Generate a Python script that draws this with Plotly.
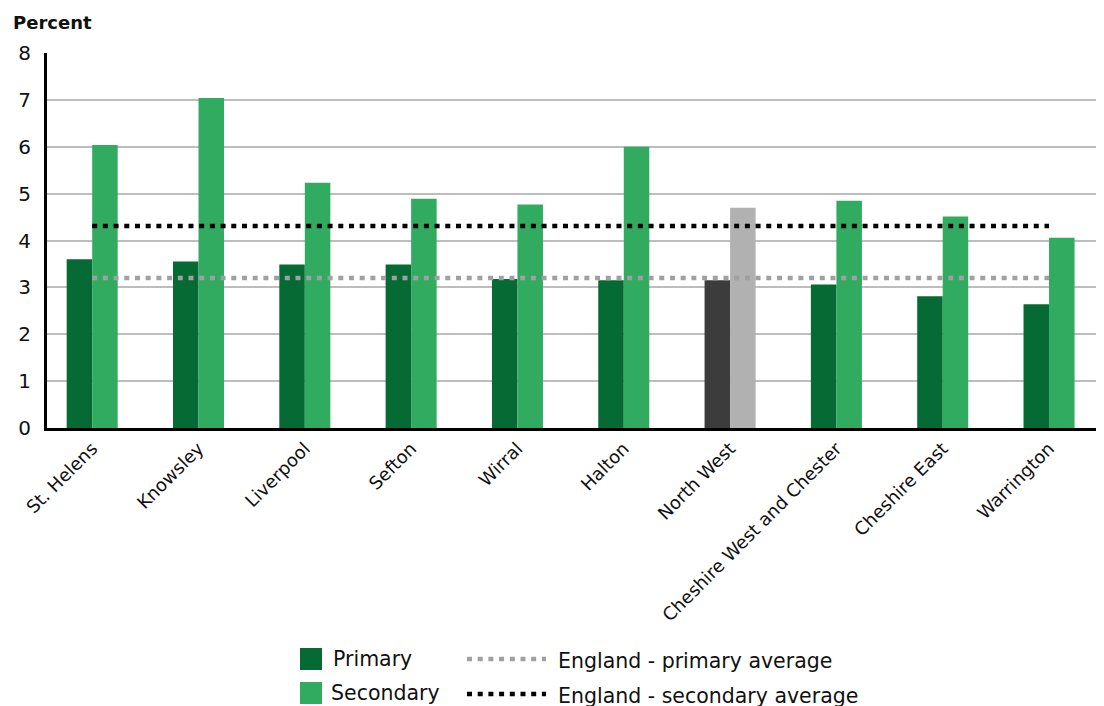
import plotly.graph_objects as go

categories = ["St. Helens", "Knowsley", "Liverpool", "Sefton", "Wirral", "Halton",
              "North West", "Cheshire West and Chester", "Cheshire East", "Warrington"]
primary = [3.60, 3.55, 3.49, 3.49, 3.18, 3.15, 3.15, 3.06, 2.81, 2.64]
secondary = [6.04, 7.04, 5.23, 4.89, 4.77, 6.00, 4.70, 4.85, 4.51, 4.06]
england_primary_avg = 3.20
england_secondary_avg = 4.31
y_ticks = [0, 1, 2, 3, 4, 5, 6, 7, 8]

DARK = "#066a35"
LIGHT = "#31ab60"
NW_DARK = "#3c3c3c"
NW_LIGHT = "#b1b1b1"
FONT = "DejaVu Sans"
TXT = "#111111"

prim_colors = [NW_DARK if c == "North West" else DARK for c in categories]
sec_colors = [NW_LIGHT if c == "North West" else LIGHT for c in categories]

OFF = 8  # page body margin
W, H = 1104 - OFF, 706 - OFF
L, R, T, B = 47 - OFF, 0, 53 - OFF, 706 - 428
PW, PH = W - L - R, H - T - B


def px(x):
    """reference page x pixel -> paper coordinate"""
    return (x - OFF - L) / PW


def py(y):
    """reference page y pixel -> paper coordinate"""
    return (H - B - (y - OFF)) / PH


fig = go.Figure()
fig.add_trace(go.Bar(x=categories, y=primary, name="Primary",
                     marker=dict(color=prim_colors, line=dict(width=0))))
fig.add_trace(go.Bar(x=categories, y=secondary, name="Secondary",
                     marker=dict(color=sec_colors, line=dict(width=0))))
fig.add_trace(go.Scatter(x=[categories[0], categories[-1]],
                         y=[england_primary_avg] * 2, mode="lines",
                         name="England - primary average",
                         line=dict(color="#a0a0a0", width=4.5, dash="5px,5.7px")))
fig.add_trace(go.Scatter(x=[categories[0], categories[-1]],
                         y=[england_secondary_avg] * 2, mode="lines",
                         name="England - secondary average",
                         line=dict(color="#000000", width=4.5, dash="5px,5.7px")))

shapes = []
annotations = []
legend_items = [
    ("rect", DARK, 300, 648, "Primary", 331, 659),
    ("rect", LIGHT, 300, 682, "Secondary", 329, 693),
    ("line", "#a0a0a0", 467, 659, "England - primary average", 556, 661),
    ("line", "#000000", 467, 694, "England - secondary average", 556, 696),
]
for kind, col, x0, y0, label, tx, ty in legend_items:
    if kind == "rect":
        shapes.append(dict(type="rect", xref="paper", yref="paper",
                           x0=px(x0), x1=px(x0 + 22), y0=py(y0), y1=py(y0 + 22),
                           fillcolor=col, line=dict(width=0)))
    else:
        shapes.append(dict(type="line", xref="paper", yref="paper",
                           x0=px(x0), x1=px(x0 + 79), y0=py(y0), y1=py(y0),
                           line=dict(color=col, width=4.5, dash="5px,5.7px")))
    annotations.append(dict(text=label, xref="paper", yref="paper",
                            x=px(tx), y=py(ty), xanchor="left", yanchor="middle",
                            showarrow=False,
                            font=dict(family=FONT, size=20.5, color=TXT)))

annotations.append(dict(text="<b>Percent</b>", xref="paper", yref="paper",
                        x=px(11), y=py(22), xanchor="left", yanchor="middle",
                        showarrow=False,
                        font=dict(family=FONT, size=18, color=TXT)))

fig.update_layout(
    width=W, height=H,
    margin=dict(l=L, r=R, t=T, b=B),
    paper_bgcolor="white", plot_bgcolor="white",
    barmode="group", bargap=0.52, bargroupgap=0,
    showlegend=False,
    font=dict(family=FONT, color=TXT),
    shapes=shapes,
    annotations=annotations,
)
fig.update_xaxes(
    type="category", range=[-0.425, 9.517],
    showline=True, linecolor="#000000", linewidth=3,
    showgrid=False, ticks="", tickangle=-45,
    tickfont=dict(family=FONT, size=18, color=TXT),
)
fig.update_yaxes(
    range=[0, 8], tickvals=y_ticks, ticktext=[str(v) for v in y_ticks],
    showline=True, linecolor="#000000", linewidth=3,
    showgrid=True, gridcolor="#bdbdbd", gridwidth=1.5,
    zeroline=False, ticks="", ticklabelstandoff=9,
    tickfont=dict(family=FONT, size=20, color=TXT),
)

fig.write_html("out.html")
